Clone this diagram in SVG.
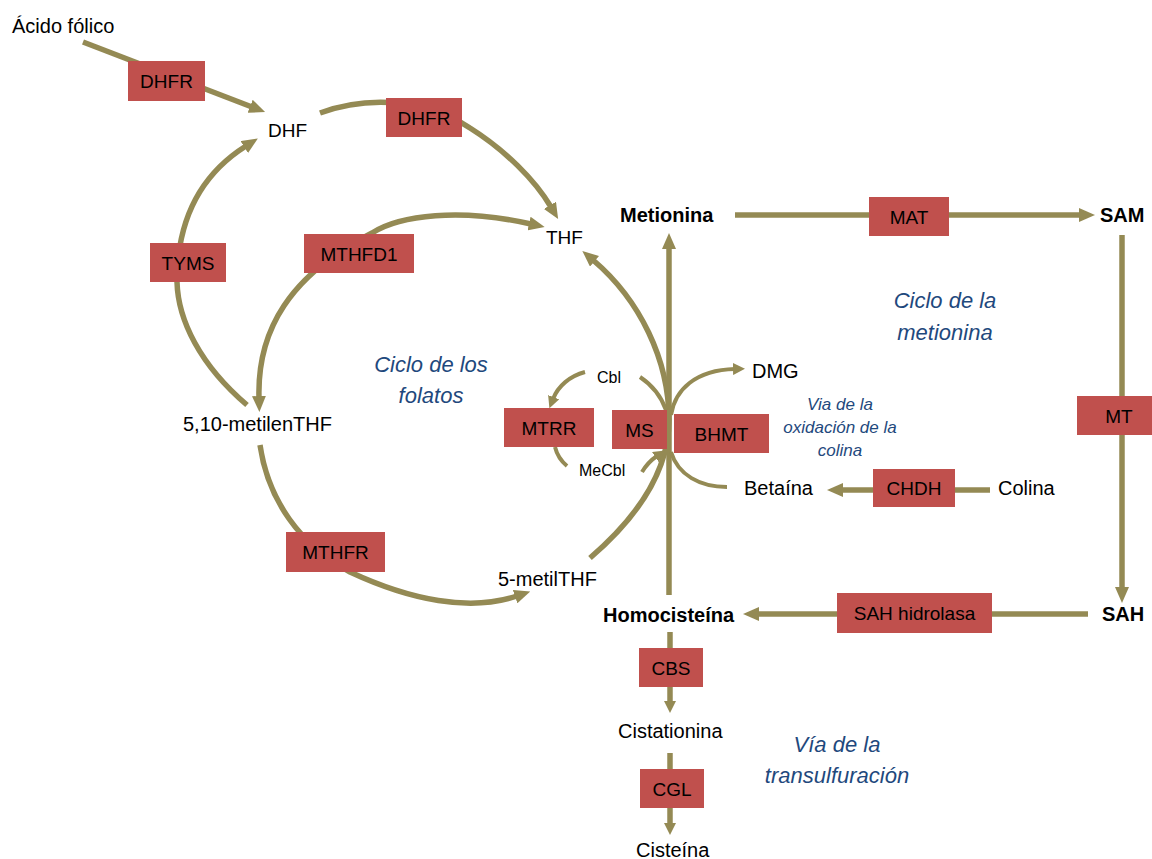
<svg xmlns="http://www.w3.org/2000/svg" width="1152" height="859" viewBox="0 0 1152 859">
<style>
text{font-family:"Liberation Sans",Arial,sans-serif;fill:#000}
.lbl{font-size:20px}
.b{font-size:20px;font-weight:bold}
.sm{font-size:16px}
.enz{font-size:19px;text-anchor:middle}
.box{fill:#C0504D}
.blue{fill:#1F497D;font-style:italic;text-anchor:middle}
.big{font-size:22px}
.mid{font-size:17px}
.c{fill:none;stroke:#948A54;stroke-width:5.5}
.t{fill:none;stroke:#948A54;stroke-width:4}
</style>
<defs>
<marker id="ah" viewBox="0 0 16 14" refX="2" refY="7" markerWidth="16" markerHeight="14" markerUnits="userSpaceOnUse" orient="auto-start-reverse"><path d="M0,0 L16,7 L0,14 Z" fill="#948A54"/></marker>
<marker id="as" viewBox="0 0 12 12" refX="2" refY="6" markerWidth="12" markerHeight="12" markerUnits="userSpaceOnUse" orient="auto"><path d="M0,0 L12,6 L0,12 Z" fill="#948A54"/></marker>
</defs>
<g id="connectors">
<path class="c" d="M83,42 L252,107" marker-end="url(#ah)"/>
<path class="c" d="M320,113 C360,98 420,95 470,128 C505,150 535,180 551,207" marker-end="url(#ah)"/>
<path class="c" d="M259,398 C257,330 290,275 372,233 C400,215 460,208 531,224" marker-start="url(#ah)" marker-end="url(#ah)"/>
<path class="c" d="M247,405 C200,365 178,320 177,282 C177,220 200,175 246,146" marker-end="url(#ah)"/>
<path class="c" d="M260,445 C268,500 300,545 350,572 C410,600 470,612 517,596" marker-end="url(#ah)"/>
<path class="c" d="M590,558 C640,515 669,470 669,420 C669,360 640,300 593,260" marker-end="url(#ah)"/>
<path class="c" d="M669,595 L669,247" marker-end="url(#ah)"/>
<path class="t" d="M585,372 C570,376 558,386 553,399" marker-end="url(#as)"/>
<path class="t" d="M555,447 C557,455 561,461 567,466"/>
<path class="t" d="M640,377 C652,385 661,396 666,410"/>
<path class="t" d="M642,472 Q648,462 657,456" marker-end="url(#as)"/>
<path class="t" d="M671,415 C675,390 695,370 735,369" marker-end="url(#as)"/>
<path class="t" d="M671,452 C678,475 700,487 727,487"/>
<path class="c" d="M990,490 L841,490" marker-end="url(#ah)"/>
<path class="c" d="M735,215 L1081,215" marker-end="url(#ah)"/>
<path class="c" d="M1122,235 L1122,589" marker-end="url(#ah)"/>
<path class="c" d="M1088,614 L757,614" marker-end="url(#ah)"/>
<path class="c" d="M670,632 L670,703" marker-end="url(#as)"/>
<path class="c" d="M670,753 L670,825" marker-end="url(#as)"/>
</g>
<g id="acido-folico"><text class="lbl" x="12" y="33">Ácido fólico</text></g>
<g id="dhf"><text class="lbl" x="268" y="137" style="font-size:19px">DHF</text></g>
<g id="thf"><text class="lbl" x="546" y="244" style="font-size:19px">THF</text></g>
<g id="metilenthf"><text class="lbl" x="183" y="431">5,10-metilenTHF</text></g>
<g id="metilthf"><text class="lbl" x="498" y="586">5-metilTHF</text></g>
<g id="cbl"><text class="sm" x="597" y="383">Cbl</text></g>
<g id="mecbl"><text class="sm" x="579" y="476">MeCbl</text></g>
<g id="dmg"><text class="lbl" x="752" y="378">DMG</text></g>
<g id="betaina"><text class="lbl" x="744" y="495">Betaína</text></g>
<g id="colina"><text class="lbl" x="998" y="495">Colina</text></g>
<g id="metionina"><text class="b" x="620" y="222">Metionina</text></g>
<g id="sam"><text class="b" x="1100" y="222">SAM</text></g>
<g id="sah"><text class="b" x="1102" y="621">SAH</text></g>
<g id="homocisteina"><text class="b" x="603" y="622">Homocisteína</text></g>
<g id="cistationina"><text class="lbl" x="618" y="738">Cistationina</text></g>
<g id="cisteina"><text class="lbl" x="636" y="857">Cisteína</text></g>
<g id="e-dhfr1"><rect class="box" x="128" y="61" width="77" height="40"/><text class="enz" x="166.5" y="88">DHFR</text></g>
<g id="e-dhfr2"><rect class="box" x="386" y="98" width="76" height="39"/><text class="enz" x="424" y="124.5">DHFR</text></g>
<g id="e-tyms"><rect class="box" x="150" y="243" width="76" height="39"/><text class="enz" x="188" y="269.5">TYMS</text></g>
<g id="e-mthfd1"><rect class="box" x="304" y="234" width="110" height="39"/><text class="enz" x="359" y="260.5">MTHFD1</text></g>
<g id="e-mthfr"><rect class="box" x="286" y="532" width="99" height="40"/><text class="enz" x="335.5" y="559">MTHFR</text></g>
<g id="e-mtrr"><rect class="box" x="504" y="408" width="90" height="39"/><text class="enz" x="549" y="434.5">MTRR</text></g>
<g id="e-ms"><rect class="box" x="612" y="410" width="55" height="39"/><text class="enz" x="639.5" y="436.5">MS</text></g>
<g id="e-bhmt"><rect class="box" x="674" y="414" width="95" height="39"/><text class="enz" x="721.5" y="440.5">BHMT</text></g>
<g id="e-chdh"><rect class="box" x="873" y="469" width="82" height="38"/><text class="enz" x="914" y="495">CHDH</text></g>
<g id="e-mat"><rect class="box" x="869" y="197" width="80" height="39"/><text class="enz" x="909" y="223.5">MAT</text></g>
<g id="e-mt"><rect class="box" x="1077" y="396" width="90" height="39"/><text class="enz" x="1119" y="422.5">MT</text></g>
<g id="e-sah"><rect class="box" x="837" y="593" width="155" height="40"/><text class="enz" x="914.5" y="620">SAH hidrolasa</text></g>
<g id="e-cbs"><rect class="box" x="639" y="648" width="64" height="39"/><text class="enz" x="671" y="674.5">CBS</text></g>
<g id="e-cgl"><rect class="box" x="640" y="769" width="64" height="39"/><text class="enz" x="672" y="795.5">CGL</text></g>
<g id="lbl-folatos"><text class="blue big" x="431" y="372">Ciclo de los</text><text class="blue big" x="431" y="403">folatos</text></g>
<g id="lbl-metionina"><text class="blue big" x="945" y="308">Ciclo de la</text><text class="blue big" x="945" y="340">metionina</text></g>
<g id="lbl-colina"><text class="blue mid" x="840" y="410">Via de la</text><text class="blue mid" x="840" y="433">oxidación de la</text><text class="blue mid" x="840" y="456">colina</text></g>
<g id="lbl-transulf"><text class="blue big" x="837" y="752">Vía de la</text><text class="blue big" x="837" y="783">transulfuración</text></g>
</svg>
